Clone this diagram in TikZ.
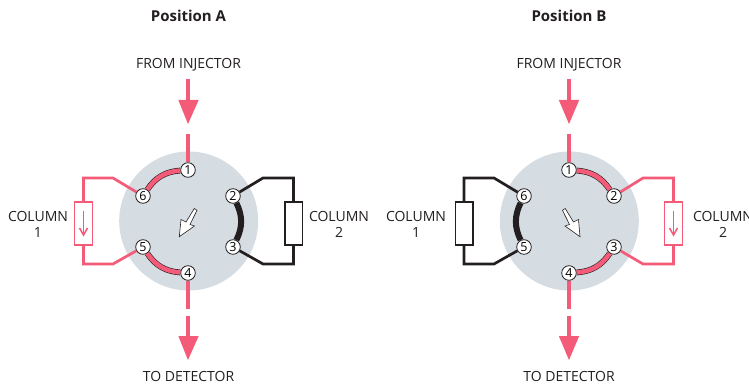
\documentclass[tikz,border=0pt]{standalone}
\usepackage{fontspec}
\setmainfont{Open Sans}
\definecolor{flow}{HTML}{F45B78}
\definecolor{disc}{HTML}{D5DCE2}
\definecolor{ink}{HTML}{231F20}
\tikzset{
  x=1pt,y=-1pt,
  valve/.style={circle,fill=disc,draw=none,minimum size=139pt,inner sep=0pt},
  port/.style={circle,draw=ink,fill=white,line width=0.8pt,minimum size=14.6pt,inner sep=0pt,font=\fontsize{12.5}{12.5}\selectfont},
  label/.style={font=\fontsize{14}{16}\selectfont,text=ink,align=center,inner sep=0pt},
  title/.style={font=\fontsize{15}{16}\selectfont\bfseries,text=ink,inner sep=0pt},
  pinkline/.style={draw=flow,line width=2.7pt,line join=miter},
  blackline/.style={draw=ink,line width=2.7pt,line join=miter},
  pinkarc/.style={draw=ink,double=flow,line width=0.6pt,double distance=4.6pt},
  blackarc/.style={draw=ink,line width=6pt},
  pinkcol/.style={draw=flow,fill=white,line width=1.3pt,minimum width=17.5pt,minimum height=43pt,inner sep=0pt},
  blackcol/.style={draw=ink,fill=white,line width=1.5pt,minimum width=17.5pt,minimum height=43pt,inner sep=0pt},
  feed/.style={draw=flow,line width=3.3pt},
  colflow/.style={draw=flow,line width=1.5pt,line join=miter},
  headtip/.style={fill=flow,draw=none},
  pointer/.style={draw=ink,fill=white,line width=0.6pt,line join=miter},
}
\begin{document}
\begin{tikzpicture}
\useasboundingbox (0,0) rectangle (749,387);
%% Position A
\node[title] at (188.5,16) {Position A};
\node[label] at (188.5,64.5) {FROM INJECTOR};
\node[label] at (188.5,376) {TO DETECTOR};
\node[valve] (Av) at (188.7,221) {};
\node[port] (A1) at (188,170) {1};
\node[port] (A2) at (233,196) {2};
\node[port] (A3) at (233,247) {3};
\node[port] (A4) at (188,273) {4};
\node[port] (A5) at (143,247) {5};
\node[port] (A6) at (143,196) {6};
\node[pinkcol] (Ac1) at (83.5,223.5) {};
\node[blackcol] (Ac2) at (293.5,223.5) {};
\node[label] at (38,224.5) {COLUMN\\1};
\node[label] at (339,224.5) {COLUMN\\2};
\draw[pinkarc] (A1) to[bend right=26] (A6);
\draw[pinkarc] (A5) to[bend right=26] (A4);
\draw[blackarc] (A2) to[bend left=26] (A3);
\coordinate (Ab6) at (113,178);
\coordinate (Ab5) at (113,264);
\coordinate (Ab2) at (263,178);
\coordinate (Ab3) at (263,264);
\draw[pinkline] (A6) -- (Ab6) -| (Ac1.north);
\draw[pinkline] (A5) -- (Ab5) -| (Ac1.south);
\draw[blackline] (A2) -- (Ab2) -| (Ac2.north);
\draw[blackline] (A3) -- (Ab3) -| (Ac2.south);
\coordinate (Aa0) at (83.5,211);
\coordinate (Aa1) at (83.5,235);
\draw[colflow] (Aa0) -- (Aa1);
\draw[colflow] (79.5,228) -- (Aa1) -- (87.5,228);
\coordinate (Ai0) at (188,79.5);
\coordinate (Ai1) at (188,101);
\coordinate (Ait) at (188,124);
\coordinate (Ai2) at (188,134.5);
\draw[feed] (Ai0) -- (Ai1);
\fill[headtip] (178.3,100) -- (Ait) -- (198.7,100) -- cycle;
\draw[feed] (Ai2) -- (A1);
\coordinate (Ao1) at (188,308.5);
\coordinate (Ao2) at (188,316);
\coordinate (Ao3) at (188,337);
\coordinate (Aot) at (188,360);
\draw[feed] (A4) -- (Ao1);
\draw[feed] (Ao2) -- (Ao3);
\fill[headtip] (178.3,336) -- (Aot) -- (198.7,336) -- cycle;
\draw[pointer] (179.3,236.7) -- (181,219.5) -- (186,222) -- (194.3,208.5) -- (197,210.3) -- (190,224.5) -- (194.5,226) -- cycle;
%% Position B
\node[title] at (569,16) {Position B};
\node[label] at (569,64.5) {FROM INJECTOR};
\node[label] at (569,376) {TO DETECTOR};
\node[valve] (Bv) at (569.3,221) {};
\node[port] (B1) at (569,170) {1};
\node[port] (B2) at (614,196) {2};
\node[port] (B3) at (614,247) {3};
\node[port] (B4) at (569,273) {4};
\node[port] (B5) at (524,247) {5};
\node[port] (B6) at (524,196) {6};
\node[blackcol] (Bc1) at (464,223.5) {};
\node[pinkcol] (Bc2) at (673.5,223.5) {};
\node[label] at (416,224.5) {COLUMN\\1};
\node[label] at (723,224.5) {COLUMN\\2};
\draw[pinkarc] (B1) to[bend left=26] (B2);
\draw[pinkarc] (B3) to[bend left=26] (B4);
\draw[blackarc] (B6) to[bend right=26] (B5);
\coordinate (Bb6) at (494,178);
\coordinate (Bb5) at (494,264);
\coordinate (Bb2) at (643,178);
\coordinate (Bb3) at (643,264);
\draw[blackline] (B6) -- (Bb6) -| (Bc1.north);
\draw[blackline] (B5) -- (Bb5) -| (Bc1.south);
\draw[pinkline] (B2) -- (Bb2) -| (Bc2.north);
\draw[pinkline] (B3) -- (Bb3) -| (Bc2.south);
\coordinate (Ba0) at (673.5,211);
\coordinate (Ba1) at (673.5,235);
\draw[colflow] (Ba0) -- (Ba1);
\draw[colflow] (669.5,228) -- (Ba1) -- (677.5,228);
\coordinate (Bi0) at (569,79.5);
\coordinate (Bi1) at (569,101);
\coordinate (Bit) at (569,124);
\coordinate (Bi2) at (569,134.5);
\draw[feed] (Bi0) -- (Bi1);
\fill[headtip] (558.8,100) -- (Bit) -- (579.2,100) -- cycle;
\draw[feed] (Bi2) -- (B1);
\coordinate (Bo1) at (569,308.5);
\coordinate (Bo2) at (569,316);
\coordinate (Bo3) at (569,337);
\coordinate (Bot) at (569,360);
\draw[feed] (B4) -- (Bo1);
\draw[feed] (Bo2) -- (Bo3);
\fill[headtip] (558.8,336) -- (Bot) -- (579.2,336) -- cycle;
\draw[pointer] (580,236.7) -- (565,226) -- (569.5,224.5) -- (562.5,210.3) -- (565.2,208.5) -- (573.5,222) -- (578.5,219.5) -- cycle;
\end{tikzpicture}
\end{document}
